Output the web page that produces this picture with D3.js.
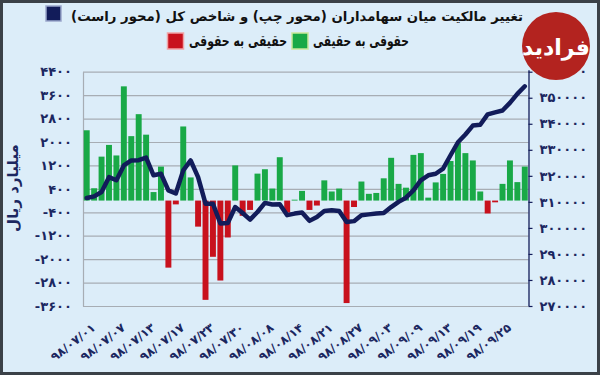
<!DOCTYPE html>
<html>
<head>
<meta charset="utf-8">
<script src="https://cdn.jsdelivr.net/npm/d3@7"></script>
<style>
html,body{margin:0;padding:0;background:#dcedf9;}
svg{display:block;}
text{font-family:"DejaVu Sans",sans-serif;}
</style>
</head>
<body>
<svg id="chart" width="600" height="375"></svg>
<script>
// ---- data ----
const days = d3.range(1, 61); // 60 trading days
const tickLabels = ["98/07/01","98/07/07","98/07/13","98/07/17","98/07/23","98/07/30","98/08/08","98/08/14","98/08/21","98/08/27","98/09/03","98/09/09","98/09/13","98/09/19","98/09/25"];
const flows = [2400,420,1500,1900,1540,3900,2200,2950,2250,290,
  1160,-2290,-130,2530,790,-890,-3390,-1920,-2730,-1260,
  1200,-520,-320,920,1070,410,1480,-410,30,330,
  -320,-170,690,310,410,-3500,-220,650,230,260,
  760,1460,570,440,1560,1620,100,620,910,1350,
  1960,1620,1370,310,-440,-60,570,1370,630,1160];
const index = [311500,312100,313800,319500,318300,324000,325900,326000,327000,320200,
  320800,314400,313200,322100,325900,319500,309300,309300,301700,301900,
  308000,305700,303200,306100,309600,309000,309100,304900,305500,305900,
  302700,304200,306500,306800,306500,302300,302600,304900,305200,305500,
  305700,308000,310000,311600,314400,318300,320200,320800,322800,327900,
  332900,335900,339300,339600,343600,344400,345100,348000,351500,354400];
const leftTicks = [-3600,-2800,-2000,-1200,-400,400,1200,2000,2800,3600,4400];
const rightTicks = [270000,280000,290000,300000,310000,320000,330000,340000,350000,360000];
const titleText = "تغییر مالکیت میان سهامداران (محور چپ) و شاخص کل (محور راست)";
const seriesNames = ["حقوقی به حقیقی","حقیقی به حقوقی"];
const yAxisTitle = "میلیارد ریال";

// ---- helpers ----
const RLM = "\u200F";
const fa = s => String(s).replace(/\d/g, d => "۰۱۲۳۴۵۶۷۸۹"[d]);
const GREEN = "#19a947", RED = "#c8111d", NAVY = "#121c5a", GRID = "#a7adb4", LABEL = "#1b2760";

const svg = d3.select("#chart");
svg.append("rect").attr("x",1.5).attr("y",1.5).attr("width",597).attr("height",372)
  .attr("fill","#dcedf9").attr("stroke","#3b4148").attr("stroke-width",3);

const pLeft = 83, pRight = 528.5, pTop = 71.7, pBottom = 306;
const x = d3.scaleBand().domain(days).range([pLeft, pRight]).paddingInner(0.2).paddingOuter(0.1);
const yL = d3.scaleLinear().domain([-3600, 4400]).range([pBottom, pTop]);
const yR = d3.scaleLinear().domain([270000, 360000]).range([pBottom, pTop]);

// left axis + gridlines
const gL = svg.append("g").attr("transform", `translate(${pLeft},0)`)
  .call(d3.axisLeft(yL).tickValues(leftTicks).tickSizeInner(-(pRight-pLeft)).tickSizeOuter(0)
    .tickPadding(11).tickFormat(d => fa(d)));
gL.select(".domain").attr("stroke", GRID).attr("stroke-width",1.2);
gL.selectAll(".tick line").attr("stroke", GRID).attr("stroke-width",1.2);
gL.selectAll(".tick text").attr("fill", LABEL).attr("font-size",13).attr("font-weight","bold")
  .attr("letter-spacing","1.2px").style("font-family","DejaVu Sans");

// bars
svg.append("g").selectAll("rect").data(days).join("rect")
  .attr("x", d => x(d))
  .attr("width", x.bandwidth())
  .attr("y", (d,i) => yL(Math.max(0, flows[i])))
  .attr("height", (d,i) => Math.abs(yL(flows[i]) - yL(0)))
  .attr("fill", (d,i) => flows[i] >= 0 ? GREEN : RED);

// index line
const line = d3.line().x(d => x(d) + x.bandwidth()/2).y((d,i) => yR(index[i]));
svg.append("path").datum(days).attr("d", line).attr("fill","none")
  .attr("stroke", NAVY).attr("stroke-width",4.5).attr("stroke-linejoin","round").attr("stroke-linecap","round");

// right axis
const gR = svg.append("g").attr("transform", `translate(${pRight},0)`)
  .call(d3.axisRight(yR).tickValues(rightTicks).tickSizeInner(4).tickSizeOuter(0).tickPadding(7)
    .tickFormat(d => fa(d)));
gR.select(".domain").attr("stroke", NAVY).attr("stroke-width",1.3)
  .attr("d", `M0.5,${pBottom}V${pTop-1.5}`);
gR.selectAll(".tick line").attr("stroke", NAVY).attr("stroke-width",1.2);
gR.selectAll(".tick text").attr("fill", LABEL).attr("font-size",13).attr("font-weight","bold")
  .attr("letter-spacing","0.6px").style("font-family","DejaVu Sans");

// x labels (every 4th day)
svg.append("g").selectAll("text").data(tickLabels).join("text")
  .attr("transform", (d,i) => `translate(${x(days[i*4]) + x.bandwidth()/2 + 7},${326}) rotate(-38)`)
  .attr("text-anchor","end").attr("dy","0.35em")
  .attr("fill", LABEL).attr("font-size",12).attr("font-weight","bold")
  .text(d => fa(d));

// y-axis title
svg.append("text").attr("transform","translate(18,188) rotate(-90)")
  .attr("text-anchor","middle").attr("fill",LABEL)
  .attr("font-size",15).attr("font-weight","bold").text(yAxisTitle);

// title + legend
const title = svg.append("text").attr("x",297).attr("y",21).attr("text-anchor","middle")
  .attr("fill","#111").attr("font-size",16).attr("font-weight","bold").text(RLM + titleText + RLM);
const tw = title.node().getComputedTextLength();
title.attr("font-size", Math.min(18, 16 * 452 / tw));
svg.append("rect").attr("x",46).attr("y",6).attr("width",15).attr("height",15)
  .attr("fill",NAVY).attr("stroke","#9aa7cc").attr("stroke-width",1.5);

const legend = [
  {name: seriesNames[1], color: RED, stroke:"#f0a3a6", sx:167.5, tx:238, tw:98},
  {name: seriesNames[0], color: GREEN, stroke:"#c9e79a", sx:292, tx:361, tw:96}
];
legend.forEach(l => {
  svg.append("rect").attr("x",l.sx).attr("y",33).attr("width",16).attr("height",16)
    .attr("fill",l.color).attr("stroke",l.stroke).attr("stroke-width",1.5);
  svg.append("text").attr("x",l.tx).attr("y",46).attr("text-anchor","middle")
    .attr("fill","#111").attr("font-size",15).attr("font-weight","bold")
    .attr("textLength",l.tw).attr("lengthAdjust","spacingAndGlyphs").text(l.name);
});

// watermark logo
svg.append("circle").attr("cx",556).attr("cy",46).attr("r",34).attr("fill","#b3231f");
svg.append("text").attr("x",556).attr("y",55).attr("text-anchor","middle")
  .attr("fill","#fff").attr("font-size",22).attr("font-weight","bold").text("فرادید");
</script>
</body>
</html>
